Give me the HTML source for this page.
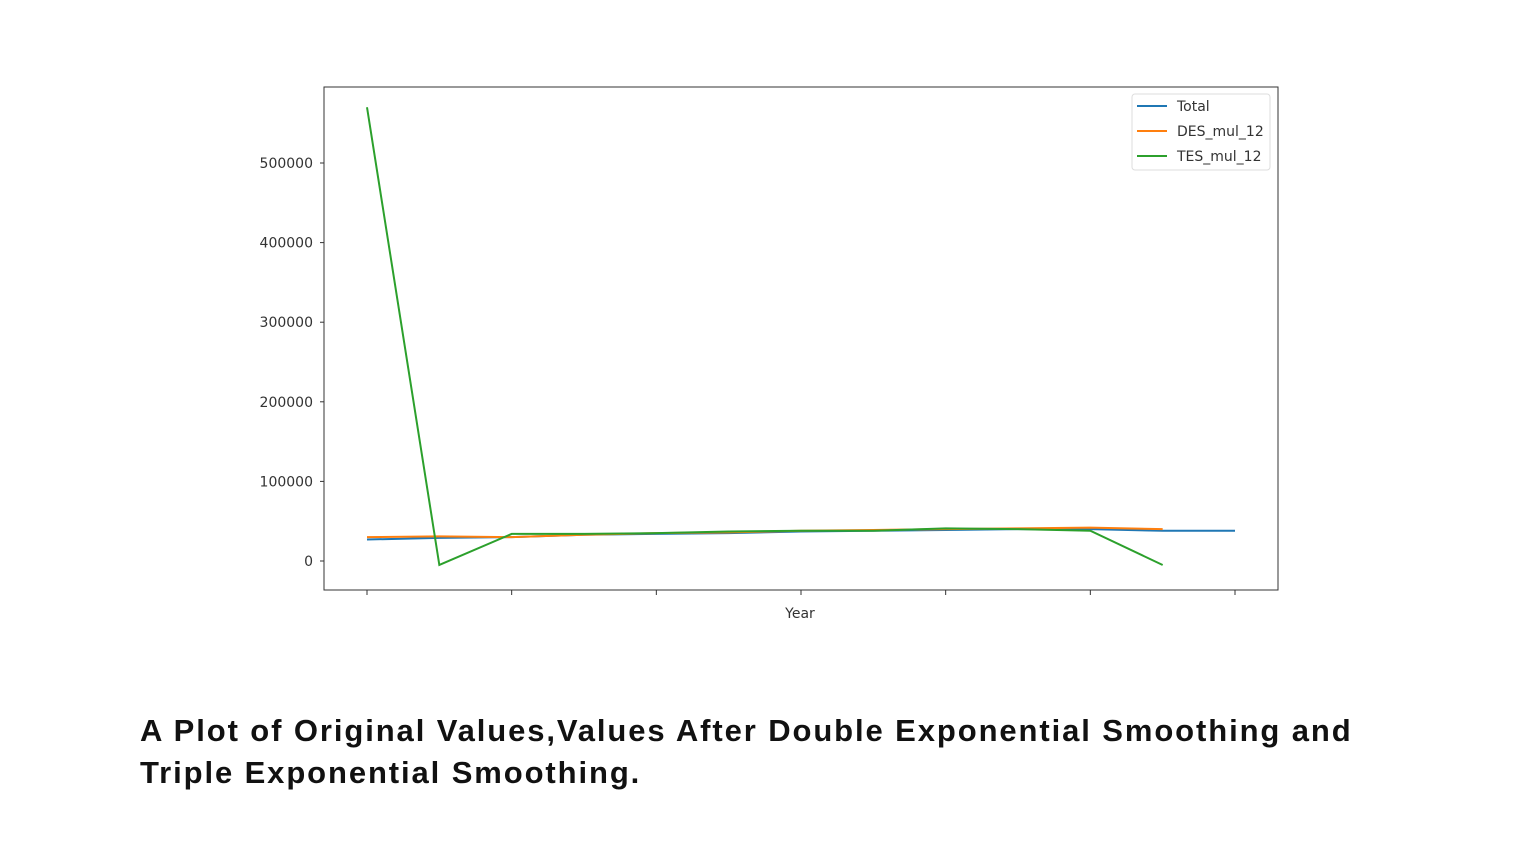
<!DOCTYPE html>
<html><head><meta charset="utf-8"><style>
body{margin:0;background:#fff;width:1537px;height:859px;overflow:hidden;position:relative;font-family:"DejaVu Sans","Liberation Sans",sans-serif}
.cap{position:absolute;left:140px;top:710px;font-family:"Liberation Sans",sans-serif;font-weight:bold;font-size:31px;line-height:42px;color:#111;letter-spacing:1.9px;white-space:nowrap}
</style></head><body>
<svg id="chart" width="1537" height="680" style="position:absolute;left:0;top:0"></svg>
<div class="cap">A Plot of Original Values,Values After Double Exponential Smoothing and<br>Triple Exponential Smoothing.</div>
<script>
const total=[27000,29000,30000,33000,34000,35000,37000,38000,39000,40000,40000,38000,38000];
const des=[30000,31000,30000,33000,35000,36000,38000,39000,40000,41000,42000,40000];
const tes=[570000,-5000,34000,34000,35000,37000,38000,38000,41000,40000,38000,-5000];
const yTicks=[0,100000,200000,300000,400000,500000];
const xTickIdx=[0,2,4,6,8,10,12];
const NS="http://www.w3.org/2000/svg";
const svg=document.getElementById('chart');
const L=324,R=1278,T=87,B=590;
function x(i){return 367+i*(1235-367)/12;}
function y(v){return 561-v*(561-163)/500000;}
function mk(t,a){const e=document.createElementNS(NS,t);for(const k in a)e.setAttribute(k,a[k]);svg.appendChild(e);return e;}
const frame=mk('rect',{x:L,y:T,width:R-L,height:B-T,fill:'none',stroke:'#333','stroke-width':1});


yTicks.forEach(v=>{
 const tk=mk('line',{x1:L-4,x2:L,y1:y(v),y2:y(v),stroke:'#333'});
 
 
 const t=mk('text',{x:L-11,y:y(v)+5,'text-anchor':'end','font-size':14,fill:'#333','font-family':'DejaVu Sans, sans-serif'});
 t.textContent=v;
 
 
});
xTickIdx.forEach(i=>{
 const tk=mk('line',{x1:x(i),x2:x(i),y1:B,y2:B+5,stroke:'#333'});
 
 
});
const xl=mk('text',{x:800,y:618,'text-anchor':'middle','font-size':14,fill:'#333','font-family':'DejaVu Sans, sans-serif'});
xl.textContent='Year';


function line(d,c,n){const p=mk('polyline',{points:d.map((v,i)=>x(i)+','+y(v)).join(' '),fill:'none',stroke:c,'stroke-width':2});
 
 }
line(total,'#1f77b4','series-total');
line(des,'#ff7f0e','series-des-mul-12');
line(tes,'#2ca02c','series-tes-mul-12');
const lg=mk('rect',{x:1132,y:94,width:138,height:76,rx:3,fill:'#fff',stroke:'#ddd'});


[['Total','#1f77b4'],['DES_mul_12','#ff7f0e'],['TES_mul_12','#2ca02c']].forEach((e,k)=>{
 const yy=106+k*25;
 const s=mk('line',{x1:1137,x2:1167,y1:yy,y2:yy,stroke:e[1],'stroke-width':2});
 
 
 const t=mk('text',{x:1177,y:yy+5,'font-size':14,fill:'#333','font-family':'DejaVu Sans, sans-serif'});
 t.textContent=e[0];
 
 
});
</script>
</body></html>
